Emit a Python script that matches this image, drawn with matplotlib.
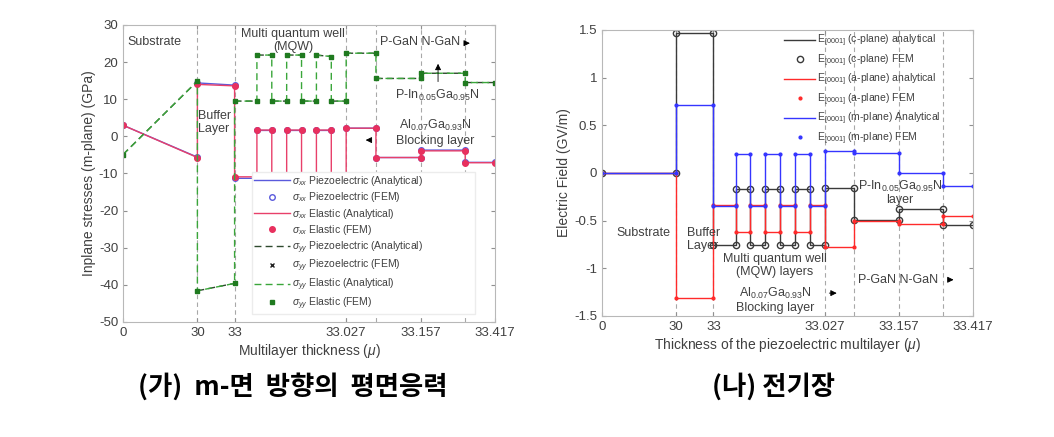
import numpy as np
import matplotlib
matplotlib.use("Agg")
import matplotlib.pyplot as plt

plt.rcParams["font.family"] = ["Liberation Sans", "DejaVu Sans"]
plt.rcParams["mathtext.fontset"] = "custom"
plt.rcParams["mathtext.rm"] = "Liberation Sans"
plt.rcParams["mathtext.it"] = "Liberation Sans:italic"
plt.rcParams["axes.unicode_minus"] = False

# layer edges on the (non-linear) display axis
edges = [0, 2, 3, 3.6, 4.0, 4.4, 4.8, 5.2, 5.6, 6.0, 6.8, 8.0, 9.2, 10.0]
tick_pos = [0, 2, 3, 6, 8, 10]
tick_lab = ["0", "30", "33", "33.027", "33.157", "33.417"]
bound_pos = [2, 3, 6, 6.8, 8, 9.2]

# (a) in-plane stresses, value at start / end of each layer (GPa)
sxx_el_a = [3.0, 14.0, -10.9, 1.7, -10.9, 1.7, -10.9, 1.7, -10.9, 2.2, -5.7, -3.9, -7.1]
sxx_el_b = [-5.7, 13.6, -10.9, 1.7, -10.9, 1.7, -10.9, 1.7, -10.9, 2.2, -5.7, -3.9, -7.1]
sxx_pz_a = [3.0, 14.4, -11.3, 1.6, -11.3, 1.6, -11.3, 1.6, -11.3, 2.2, -5.7, -3.7, -7.0]
sxx_pz_b = [-5.6, 13.8, -11.3, 1.6, -11.3, 1.6, -11.3, 1.6, -11.3, 2.2, -5.7, -3.7, -7.0]
syy_a = [-4.9, -41.6, 9.5, 21.9, 9.5, 21.9, 9.5, 21.9, 9.5, 22.4, 15.6, 17.0, 14.5]
syy_b = [14.9, -39.6, 9.5, 21.9, 9.5, 21.9, 9.5, 21.5, 9.5, 22.4, 15.6, 17.0, 14.5]

# (b) electric field per layer (GV/m)
e_c = [0, 1.47, -0.76, -0.17, -0.76, -0.17, -0.76, -0.17, -0.76, -0.16, -0.49, -0.38, -0.55]
e_a = [0, -1.31, -0.34, -0.62, -0.34, -0.62, -0.34, -0.62, -0.34, -0.78, -0.50, -0.54, -0.45]
e_m = [0, 0.71, -0.35, 0.20, -0.35, 0.20, -0.35, 0.20, -0.35, 0.23, 0.21, 0.0, -0.14]


def steps(a, b, gaps=False):
    xs, ys = [], []
    for i in range(len(a)):
        xs += [edges[i], edges[i + 1]]
        ys += [a[i], b[i]]
        if gaps:
            xs.append(np.nan)
            ys.append(np.nan)
    return np.array(xs), np.array(ys)


def style(ax):
    ax.set_xlim(0, 10)
    ax.set_xticks(tick_pos)
    ax.set_xticklabels(tick_lab)
    ax.tick_params(direction="in", top=True, right=True, length=3,
                   color="#909090", labelcolor="#404040", labelsize=9.5)
    for s in ax.spines.values():
        s.set_color("#b8b8b8")
        s.set_linewidth(0.8)
    for xb in bound_pos:
        ax.axvline(xb, color="#a8a8a8", ls=(0, (4, 3)), lw=0.8, zorder=0)


fig = plt.figure(figsize=(10.54, 4.37), dpi=100)
ax1 = fig.add_axes([0.1167, 0.2632, 0.3529, 0.6796])
ax2 = fig.add_axes([0.5712, 0.2769, 0.3520, 0.6545])

# ---- left panel
x, y = steps(sxx_pz_a, sxx_pz_b, gaps=True)
ax1.plot(x, y, color="#5a5adc", lw=1.0,
         label=r"$\sigma_{xx}$ Piezoelectric (Analytical)")
x, y = steps(sxx_pz_a, sxx_pz_b)
ax1.plot(x, y, ls="none", marker="o", ms=4, mfc="none", mec="#5a5adc",
         label=r"$\sigma_{xx}$ Piezoelectric (FEM)")
x, y = steps(sxx_el_a, sxx_el_b)
ax1.plot(x, y, color="#e8406a", lw=1.0, label=r"$\sigma_{xx}$ Elastic (Analytical)")
ax1.plot(x, y, ls="none", marker="o", ms=4, color="#e8305e",
         label=r"$\sigma_{xx}$ Elastic (FEM)")
x, y = steps(syy_a, syy_b, gaps=True)
ax1.plot(x, y, color="#2e4a2e", lw=1.0, ls=(0, (5, 3)),
         label=r"$\sigma_{yy}$ Piezoelectric (Analytical)")
x, y = steps(syy_a, syy_b)
ax1.plot(x, y, ls="none", marker="x", ms=3.5, color="#222222",
         label=r"$\sigma_{yy}$ Piezoelectric (FEM)")
ax1.plot(x, y, color="#3aa63a", lw=1.0, ls=(0, (5, 3)),
         label=r"$\sigma_{yy}$ Elastic (Analytical)")
ax1.plot(x, y, ls="none", marker="s", ms=3.5, color="#1f7a1f",
         label=r"$\sigma_{yy}$ Elastic (FEM)")

style(ax1)
ax1.set_ylim(-50, 30)
ax1.set_yticks(np.arange(-50, 31, 10))
ax1.set_xlabel(r"Multilayer thickness ($\mu$)", color="#404040", fontsize=10, labelpad=2)
ax1.set_ylabel("Inplane stresses (m-plane) (GPa)", color="#404040", fontsize=10, labelpad=2)
leg = ax1.legend(loc="upper left", bbox_to_anchor=(0.347, 0.0, 0.6, 0.505),
                 mode="expand", borderaxespad=0, fontsize=7.5,
                 handlelength=3.4, handletextpad=0.2, labelspacing=0.22,
                 borderpad=0.2, frameon=True, fancybox=False,
                 edgecolor="#ececec", framealpha=1)
for t in leg.get_texts():
    t.set_color("#404040")

tk = dict(color="#404040", fontsize=9)
ax1.text(0.13, 25.4, "Substrate", va="center", **tk)
ax1.text(2.02, 3.8, "Buffer\nLayer", va="center", linespacing=1.1, **tk)
ax1.text(4.57, 25.8, "Multi quantum well\n(MQW)", ha="center", va="center",
         linespacing=1.05, **tk)
ax1.text(6.9, 25.4, "P-GaN N-GaN", va="center", **tk)
ax1.text(8.45, 10.9, r"P-In$_{0.05}$Ga$_{0.95}$N", ha="center", va="center", **tk)
ax1.text(8.4, 1.0, "Al$_{0.07}$Ga$_{0.93}$N\nBlocking layer", ha="center",
         va="center", linespacing=1.2, **tk)
ap = dict(arrowstyle="-|>", color="black", lw=0.6, mutation_scale=9)
ax1.annotate("", xy=(9.4, 25.1), xytext=(9.15, 25.1), arrowprops=ap)
ax1.annotate("", xy=(8.47, 20.3), xytext=(8.47, 14.0), arrowprops=ap)
ax1.annotate("", xy=(6.45, -1.0), xytext=(6.75, -1.0), arrowprops=ap)

# ---- right panel
x, y = steps(e_c, e_c)
ax2.plot(x, y, color="#3a3a3a", lw=1.0, label=r"E$_{[0001]}$ (c-plane) analytical")
ax2.plot(x, y, ls="none", marker="o", ms=4.5, mfc="none", mec="#3a3a3a",
         label=r"E$_{[0001]}$ (c-plane) FEM")
x, y = steps(e_a, e_a)
ax2.plot(x, y, color="#ff2a2a", lw=1.0, label=r"E$_{[0001]}$ (a-plane) analytical")
ax2.plot(x, y, ls="none", marker=".", ms=4, color="#ff2a2a",
         label=r"E$_{[0001]}$ (a-plane) FEM")
x, y = steps(e_m, e_m)
ax2.plot(x, y, color="#3535ff", lw=1.0, label=r"E$_{[0001]}$ (m-plane) Analytical")
ax2.plot(x, y, ls="none", marker=".", ms=4, color="#3535ff",
         label=r"E$_{[0001]}$ (m-plane) FEM")

style(ax2)
ax2.set_ylim(-1.5, 1.5)
ax2.set_yticks([-1.5, -1, -0.5, 0, 0.5, 1, 1.5])
ax2.set_yticklabels(["-1.5", "-1", "-0.5", "0", "0.5", "1", "1.5"])
ax2.set_xlabel(r"Thickness of the piezoelectric multilayer ($\mu$)", color="#404040",
               fontsize=10, labelpad=2)
ax2.set_ylabel("Electric Field (GV/m)", color="#404040", fontsize=10, labelpad=2)
leg2 = ax2.legend(loc="upper left", bbox_to_anchor=(0.468, 1.02), fontsize=7.5,
                  handlelength=3.0, handletextpad=0.2, labelspacing=0.3,
                  borderpad=0.3, frameon=False)
for t in leg2.get_texts():
    t.set_color("#404040")

ax2.text(0.4, -0.63, "Substrate", va="center", **tk)
ax2.text(2.3, -0.70, "Buffer\nLayer", va="center", linespacing=1.1, **tk)
ax2.text(4.66, -0.97, "Multi quantum well\n(MQW) layers", ha="center", va="center",
         linespacing=1.1, **tk)
ax2.text(4.66, -1.33, "Al$_{0.07}$Ga$_{0.93}$N\nBlocking layer", ha="center",
         va="center", linespacing=1.1, **tk)
ax2.text(8.03, -0.2, "P-In$_{0.05}$Ga$_{0.95}$N\nlayer", ha="center", va="center",
         linespacing=1.0, **tk)
ax2.text(6.9, -1.12, "P-GaN N-GaN", va="center", **tk)
ax2.annotate("", xy=(6.4, -1.26), xytext=(6.05, -1.26), arrowprops=ap)
ax2.annotate("", xy=(9.55, -1.12), xytext=(9.3, -1.12), arrowprops=ap)

# captions
cap = dict(ha="center", va="center", fontsize=19, fontweight="bold",
           family=["Noto Sans CJK KR", "DejaVu Sans"])
fig.text(293 / 1054, 1 - 387 / 437, "(가)  m-면  방향의  평면응력", **cap)
fig.text(774 / 1054, 1 - 387 / 437, "(나) 전기장", **cap)

fig.savefig("out.png", dpi=100)
